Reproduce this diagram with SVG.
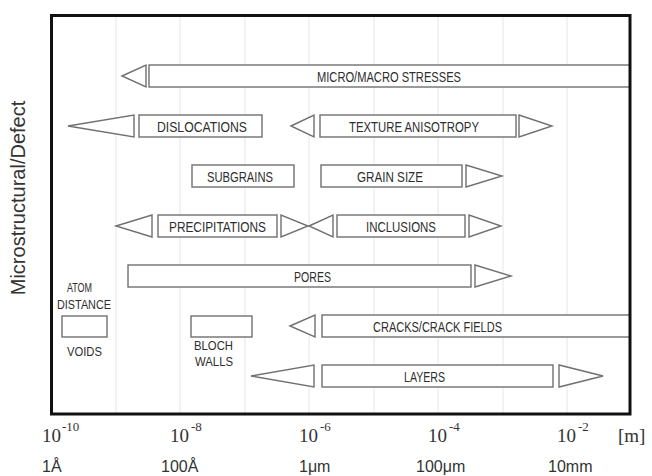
<svg xmlns="http://www.w3.org/2000/svg" width="652" height="476" viewBox="0 0 652 476">
<style>
.bx{fill:#fff;stroke:#707070;stroke-width:1.4}
.lb{font-family:"Liberation Sans",Arial,sans-serif;font-size:15px;fill:#2e2e2e}
.sm{font-family:"Liberation Sans",Arial,sans-serif;font-size:13px;fill:#2e2e2e}
.grid line{stroke:#e6e6e6;stroke-width:1}
.pw{font-family:"Liberation Serif","Times New Roman",serif;font-size:19px;fill:#333}
.sp{font-family:"Liberation Serif","Times New Roman",serif;font-size:13px;fill:#333}
.un{font-family:"Liberation Sans",Arial,sans-serif;font-size:16px;fill:#333}
</style>
<rect width="652" height="476" fill="#fff"/>
<g class="grid" id="grid">
<line x1="116" y1="16" x2="116" y2="413"/>
<line x1="180" y1="16" x2="180" y2="413"/>
<line x1="245" y1="16" x2="245" y2="413"/>
<line x1="309" y1="16" x2="309" y2="413"/>
<line x1="374" y1="16" x2="374" y2="413"/>
<line x1="438" y1="16" x2="438" y2="413"/>
<line x1="503" y1="16" x2="503" y2="413"/>
<line x1="567" y1="16" x2="567" y2="413"/>
</g>
<g id="micro-macro-stresses">
<polygon class="bx" points="122,76 146,65 146,87"/>
<rect class="bx" x="149" y="65" width="481" height="22"/>
<text class="lb" x="317" y="81.5" textLength="144" lengthAdjust="spacingAndGlyphs">MICRO/MACRO STRESSES</text>
</g>
<g id="dislocations">
<polygon class="bx" points="68,126 134,115 134,137"/>
<rect class="bx" x="139" y="115" width="123" height="22"/>
<text class="lb" x="157" y="131.5" textLength="90" lengthAdjust="spacingAndGlyphs">DISLOCATIONS</text>
</g>
<g id="texture-anisotropy">
<polygon class="bx" points="291,126 314,115 314,137"/>
<rect class="bx" x="320" y="115" width="196" height="22"/>
<polygon class="bx" points="519,115 519,137 552,126"/>
<text class="lb" x="349" y="131.5" textLength="130" lengthAdjust="spacingAndGlyphs">TEXTURE ANISOTROPY</text>
</g>
<g id="subgrains">
<rect class="bx" x="192" y="165" width="102" height="22"/>
<text class="lb" x="207" y="181.5" textLength="66" lengthAdjust="spacingAndGlyphs">SUBGRAINS</text>
</g>
<g id="grain-size">
<rect class="bx" x="321" y="165" width="141" height="22"/>
<polygon class="bx" points="466,165 466,187 502,176"/>
<text class="lb" x="357" y="181.5" textLength="66" lengthAdjust="spacingAndGlyphs">GRAIN SIZE</text>
</g>
<g id="precipitations">
<polygon class="bx" points="116,226 152,215 152,237"/>
<rect class="bx" x="158" y="215" width="119" height="22"/>
<polygon class="bx" points="281,215 281,237 308,226"/>
<text class="lb" x="169" y="231.5" textLength="97" lengthAdjust="spacingAndGlyphs">PRECIPITATIONS</text>
</g>
<g id="inclusions">
<polygon class="bx" points="309,226 333,215 333,237"/>
<rect class="bx" x="337" y="215" width="128" height="22"/>
<polygon class="bx" points="469,215 469,237 501,226"/>
<text class="lb" x="366" y="231.5" textLength="70" lengthAdjust="spacingAndGlyphs">INCLUSIONS</text>
</g>
<g id="pores">
<rect class="bx" x="128" y="265" width="343" height="22"/>
<polygon class="bx" points="475,265 475,287 511,276"/>
<text class="lb" x="294" y="281.5" textLength="37" lengthAdjust="spacingAndGlyphs">PORES</text>
</g>
<g id="voids">
<text class="sm" x="67" y="292" textLength="25" lengthAdjust="spacingAndGlyphs">ATOM</text>
<text class="sm" x="57" y="309" textLength="54" lengthAdjust="spacingAndGlyphs">DISTANCE</text>
<rect class="bx" x="62" y="316" width="45" height="21"/>
<text class="sm" x="67" y="356" textLength="35" lengthAdjust="spacingAndGlyphs">VOIDS</text>
</g>
<g id="bloch-walls">
<rect class="bx" x="191" y="316" width="61" height="21"/>
<text class="sm" x="194" y="350" textLength="39" lengthAdjust="spacingAndGlyphs">BLOCH</text>
<text class="sm" x="195" y="366" textLength="38" lengthAdjust="spacingAndGlyphs">WALLS</text>
</g>
<g id="cracks">
<polygon class="bx" points="290,326 315,315 315,337"/>
<rect class="bx" x="322" y="315" width="308" height="22"/>
<text class="lb" x="373" y="331.5" textLength="129" lengthAdjust="spacingAndGlyphs">CRACKS/CRACK FIELDS</text>
</g>
<g id="layers">
<polygon class="bx" points="251,376 314,365 314,387"/>
<rect class="bx" x="322" y="365" width="231" height="22"/>
<polygon class="bx" points="559,365 559,387 603,376"/>
<text class="lb" x="404" y="381.5" textLength="41" lengthAdjust="spacingAndGlyphs">LAYERS</text>
</g>
<g id="connectors"></g>
<rect x="51.5" y="15.5" width="578.5" height="398.5" fill="none" stroke="#111" stroke-width="3"/>
<g id="y-axis-label">
<text transform="translate(25,198) rotate(-90)" text-anchor="middle" font-family="Liberation Sans, Arial, sans-serif" font-size="20" fill="#333">Microstructural/Defect</text>
</g>
<g id="x-axis">
<text class="pw" x="42" y="442">10</text><text class="sp" x="62" y="431">-10</text>
<text class="pw" x="170" y="442">10</text><text class="sp" x="191" y="431">-8</text>
<text class="pw" x="299" y="442">10</text><text class="sp" x="320" y="431">-6</text>
<text class="pw" x="428" y="442">10</text><text class="sp" x="449" y="431">-4</text>
<text class="pw" x="557" y="442">10</text><text class="sp" x="578" y="431">-2</text>
<text class="pw" x="618" y="442">[m]</text>
<text class="un" x="42" y="472">1Å</text>
<text class="un" x="161" y="472">100Å</text>
<text class="un" x="299" y="472">1μm</text>
<text class="un" x="416" y="472">100μm</text>
<text class="un" x="548" y="472">10mm</text>
</g>
</svg>
